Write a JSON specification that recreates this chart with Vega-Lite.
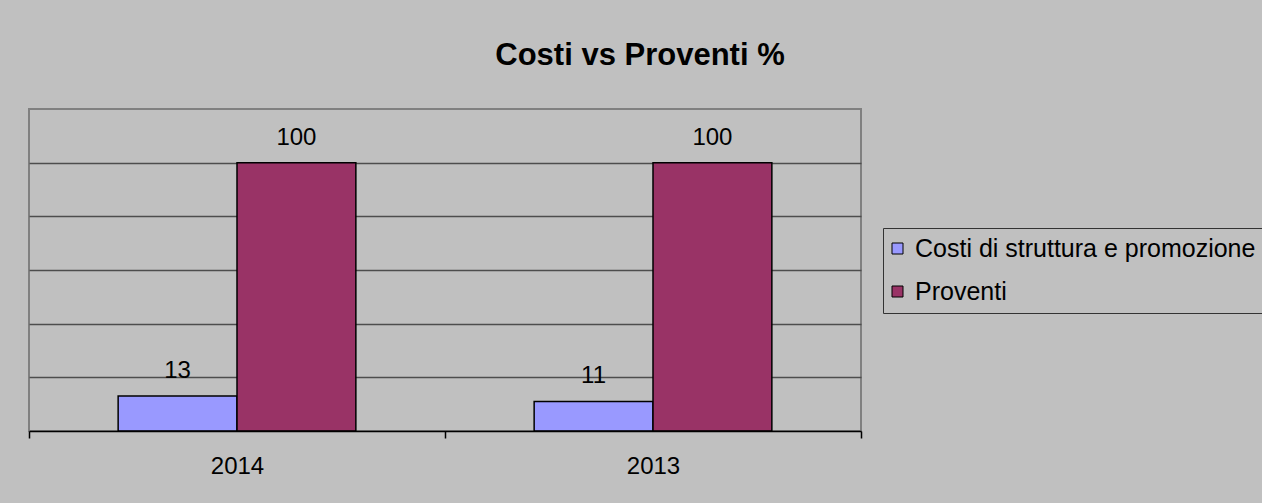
{
  "$schema": "https://vega.github.io/schema/vega-lite/v6.json",
  "width": 832,
  "height": 322,
  "autosize": {"type": "none"},
  "padding": {"left": 29, "top": 109, "right": 401, "bottom": 72},
  "background": "#C0C0C0",
  "title": {
    "text": "Costi vs Proventi %",
    "font": "Liberation Sans",
    "fontSize": 31,
    "fontWeight": "bold",
    "color": "#000000",
    "anchor": "middle",
    "frame": "group",
    "baseline": "alphabetic",
    "dx": 195,
    "offset": 13
  },
  "config": {
    "view": {"stroke": "#808080", "strokeWidth": 2, "fill": "#C0C0C0"},
    "font": "Liberation Sans"
  },
  "data": {
    "values": [
      {"anno": "2014", "serie": "Costi di struttura e promozione", "valore": 13},
      {"anno": "2014", "serie": "Proventi", "valore": 100},
      {"anno": "2013", "serie": "Costi di struttura e promozione", "valore": 11},
      {"anno": "2013", "serie": "Proventi", "valore": 100}
    ]
  },
  "encoding": {
    "x": {
      "field": "anno",
      "type": "nominal",
      "sort": ["2014", "2013"],
      "scale": {"paddingInner": 0, "paddingOuter": 0},
      "axis": {
        "title": null,
        "labelAngle": 0,
        "labelFont": "Liberation Sans",
        "labelFontSize": 24,
        "labelColor": "#000000",
        "labelPadding": 16,
        "tickBand": "extent",
        "tickSize": 7,
        "tickColor": "#000000",
        "tickWidth": 1.5,
        "domainColor": "#000000",
        "domainWidth": 1.5,
        "zindex": 1
      }
    },
    "xOffset": {
      "field": "serie",
      "type": "nominal",
      "sort": ["Costi di struttura e promozione", "Proventi"],
      "scale": {"paddingInner": 0, "paddingOuter": 0.75}
    },
    "y": {
      "field": "valore",
      "type": "quantitative",
      "scale": {"domain": [0, 120], "nice": false},
      "axis": {
        "title": null,
        "values": [20, 40, 60, 80, 100],
        "labels": false,
        "ticks": false,
        "domain": false,
        "grid": true,
        "gridColor": "#4d4d4d",
        "gridWidth": 1.5,
        "gridOpacity": 1
      }
    }
  },
  "layer": [
    {
      "mark": {"type": "bar", "stroke": "#000000", "strokeWidth": 1.5},
      "encoding": {
        "color": {
          "field": "serie",
          "type": "nominal",
          "sort": ["Costi di struttura e promozione", "Proventi"],
          "scale": {
            "domain": ["Costi di struttura e promozione", "Proventi"],
            "range": ["#9999FF", "#993366"]
          },
          "legend": {
            "title": null,
            "orient": "none",
            "legendX": 854,
            "legendY": 119,
            "padding": 8,
            "fillColor": "#C0C0C0",
            "strokeColor": "#333333",
            "symbolType": "square",
            "symbolSize": 121,
            "symbolOffset": -6,
            "symbolStrokeColor": "#000000",
            "symbolStrokeWidth": 1,
            "symbolOpacity": 1,
            "labelFont": "Liberation Sans",
            "labelFontSize": 25,
            "labelColor": "#000000",
            "labelOffset": 5,
            "labelLimit": 0,
            "rowPadding": 17
          }
        }
      }
    },
    {
      "mark": {
        "type": "text",
        "font": "Liberation Sans",
        "fontSize": 24,
        "color": "#000000",
        "align": "center",
        "baseline": "alphabetic",
        "dy": -18
      },
      "encoding": {
        "text": {"field": "valore", "type": "quantitative"}
      }
    }
  ]
}
